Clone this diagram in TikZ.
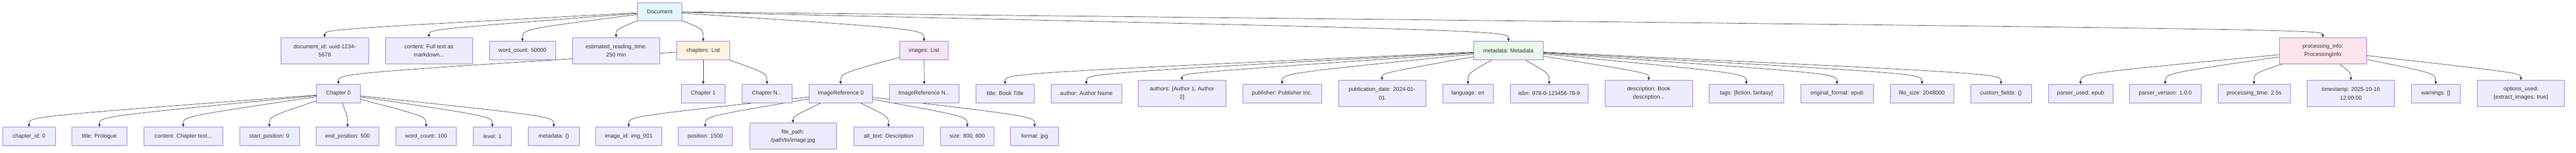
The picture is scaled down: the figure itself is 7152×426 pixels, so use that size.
\documentclass[tikz,border=0pt]{standalone}
\usepackage{fontspec}
\setmainfont{Liberation Sans}
\usetikzlibrary{arrows.meta,calc}
\pgfdeclarelayer{bg}
\pgfsetlayers{bg,main}
\definecolor{nodefill}{HTML}{ECECFF}
\definecolor{nodeline}{HTML}{9370DB}
\definecolor{txt}{HTML}{333333}
\definecolor{docfill}{HTML}{E1F5FE}
\definecolor{chapfill}{HTML}{FFF3E0}
\definecolor{imgfill}{HTML}{F3E5F5}
\definecolor{metafill}{HTML}{E8F5E9}
\definecolor{procfill}{HTML}{FCE4EC}
\newcommand\lnk[3]{\draw[edge] (#1) .. controls ($(#2.north)+(0,-#3)$) .. (#2.north);}
\begin{document}
\begin{tikzpicture}[x=1pt,y=-1pt,
  box/.style={draw=nodeline, fill=nodefill, line width=1pt, text=txt,
    font=\fontsize{15.5}{23}\selectfont, align=center, inner sep=0pt,
    minimum height=51pt},
  tall/.style={minimum height=73pt},
  edge/.style={draw=txt, line width=1pt, -{Triangle[length=8pt,width=7pt]}}]
\useasboundingbox (0,0) rectangle (7152,426);
% level 0
\node[box, fill=docfill, minimum width=123pt] (doc) at (1831.5,32.5) {Document};
% level 1
\node[box, tall, minimum width=243pt] (docid) at (901.5,141) {document\_id: uuid-1234-\\5678};
\node[box, tall, minimum width=242pt] (content) at (1191,141) {content: Full text as\\markdown...};
\node[box, minimum width=183pt] (wc) at (1450.5,141) {word\_count: 50000};
\node[box, tall, minimum width=243pt] (ert) at (1710.5,141) {estimated\_reading\_time:\\250 min};
\node[box, fill=chapfill, minimum width=147pt] (chapters) at (1952.5,141) {chapters: List};
\node[box, fill=imgfill, minimum width=135pt] (images) at (2565.5,141) {images: List};
\node[box, fill=metafill, minimum width=192pt] (meta) at (4188,141) {metadata: Metadata};
\node[box, tall, fill=procfill, minimum width=242pt] (pinfo) at (6449,141) {processing\_info:\\ProcessingInfo};
% level 2
\node[box, minimum width=121pt] (ch0) at (939.5,260.5) {Chapter 0};
\node[box, minimum width=121pt] (ch1) at (1952.5,260.5) {Chapter 1};
\node[box, minimum width=139pt] (chN) at (2129.5,260.5) {Chapter N...};
\node[box, minimum width=176pt] (img0) at (2334,260.5) {ImageReference 0};
\node[box, minimum width=194pt] (imgN) at (2566,260.5) {ImageReference N...};
\node[box, minimum width=161pt] (mtitle) at (2790.5,260.5) {title: Book Title};
\node[box, minimum width=196pt] (mauthor) at (3016,260.5) {author: Author Name};
\node[box, tall, minimum width=243pt] (mauthors) at (3281.5,260.5) {authors: [Author 1, Author\\2]};
\node[box, minimum width=219pt] (mpub) at (3559.5,260.5) {publisher: Publisher Inc.};
\node[box, tall, minimum width=242pt] (mdate) at (3837,260.5) {publication\_date: 2024-01-\\01};
\node[box, minimum width=141pt] (mlang) at (4075.5,260.5) {language: en};
\node[box, minimum width=216pt] (misbn) at (4301,260.5) {isbn: 978-0-123456-78-9};
\node[box, tall, minimum width=243pt] (mdesc) at (4577.5,260.5) {description: Book\\description...};
\node[box, minimum width=207pt] (mtags) at (4848.5,260.5) {tags: [fiction, fantasy]};
\node[box, minimum width=202pt] (mformat) at (5100,260.5) {original\_format: epub};
\node[box, minimum width=176pt] (msize) at (5336,260.5) {file\_size: 2048000};
\node[box, minimum width=169pt] (mcustom) at (5555.5,260.5) {custom\_fields: \{\}};
\node[box, minimum width=179pt] (pused) at (5776.5,260.5) {parser\_used: epub};
\node[box, minimum width=199pt] (pver) at (6011.5,260.5) {parser\_version: 1.0.0};
\node[box, minimum width=200pt] (ptime) at (6258,260.5) {processing\_time: 2.5s};
\node[box, tall, minimum width=242pt] (pstamp) at (6527,260.5) {timestamp: 2025-10-16\\12:00:00};
\node[box, minimum width=135pt] (pwarn) at (6762.5,260.5) {warnings: []};
\node[box, tall, minimum width=242pt] (popts) at (6999,260.5) {options\_used:\\\{extract\_images: true\}};
% level 3
\node[box, minimum width=145pt] (cid) at (80.5,379.5) {chapter\_id: 0};
\node[box, minimum width=152pt] (ctitle) at (276,379.5) {title: Prologue};
\node[box, minimum width=219pt] (ccontent) at (508.5,379.5) {content: Chapter text...};
\node[box, minimum width=166pt] (cstart) at (748,379.5) {start\_position: 0};
\node[box, minimum width=174pt] (cend) at (965,379.5) {end\_position: 500};
\node[box, minimum width=168pt] (cwc) at (1183,379.5) {word\_count: 100};
\node[box, minimum width=106pt] (clevel) at (1367,379.5) {level: 1};
\node[box, minimum width=141pt] (cmeta) at (1537.5,379.5) {metadata: \{\}};
\node[box, minimum width=183pt] (iid) at (1745.5,379.5) {image\_id: img\_001};
\node[box, minimum width=150pt] (ipos) at (1958,379.5) {position: 1500};
\node[box, tall, minimum width=241pt] (ipath) at (2201.5,379.5) {file\_path:\\/path/to/image.jpg};
\node[box, minimum width=194pt] (ialt) at (2467,379.5) {alt\_text: Description};
\node[box, minimum width=149pt] (isize) at (2685.5,379.5) {size: 800, 600};
\node[box, minimum width=133pt] (ifmt) at (2872.5,379.5) {format: jpg};
\begin{pgfonlayer}{bg}
% Document
\lnk{doc}{docid}{22}
\lnk{doc}{content}{22}
\lnk{doc}{wc}{34}
\lnk{doc}{ert}{22}
\lnk{doc}{chapters}{34}
\lnk{doc}{images}{34}
\lnk{doc}{meta}{30}
\lnk{doc}{pinfo}{22}
% chapters
\lnk{chapters}{ch0}{30}
\lnk{chapters}{ch1}{30}
\lnk{chapters}{chN}{30}
% images
\lnk{images}{img0}{30}
\lnk{images}{imgN}{30}
% metadata
\lnk{meta}{mtitle}{30}
\lnk{meta}{mauthor}{30}
\lnk{meta}{mauthors}{20}
\lnk{meta}{mpub}{30}
\lnk{meta}{mdate}{20}
\lnk{meta}{mlang}{30}
\lnk{meta}{misbn}{30}
\lnk{meta}{mdesc}{20}
\lnk{meta}{mtags}{30}
\lnk{meta}{mformat}{30}
\lnk{meta}{msize}{30}
\lnk{meta}{mcustom}{30}
% processing info
\lnk{pinfo}{pused}{30}
\lnk{pinfo}{pver}{30}
\lnk{pinfo}{ptime}{30}
\lnk{pinfo}{pstamp}{20}
\lnk{pinfo}{pwarn}{30}
\lnk{pinfo}{popts}{20}
% chapter 0
\lnk{ch0}{cid}{29}
\lnk{ch0}{ctitle}{29}
\lnk{ch0}{ccontent}{29}
\lnk{ch0}{cstart}{29}
\lnk{ch0}{cend}{29}
\lnk{ch0}{cwc}{29}
\lnk{ch0}{clevel}{29}
\lnk{ch0}{cmeta}{29}
% image reference 0
\lnk{img0}{iid}{29}
\lnk{img0}{ipos}{29}
\lnk{img0}{ipath}{18}
\lnk{img0}{ialt}{29}
\lnk{img0}{isize}{29}
\lnk{img0}{ifmt}{29}
\end{pgfonlayer}
\end{tikzpicture}
\end{document}
